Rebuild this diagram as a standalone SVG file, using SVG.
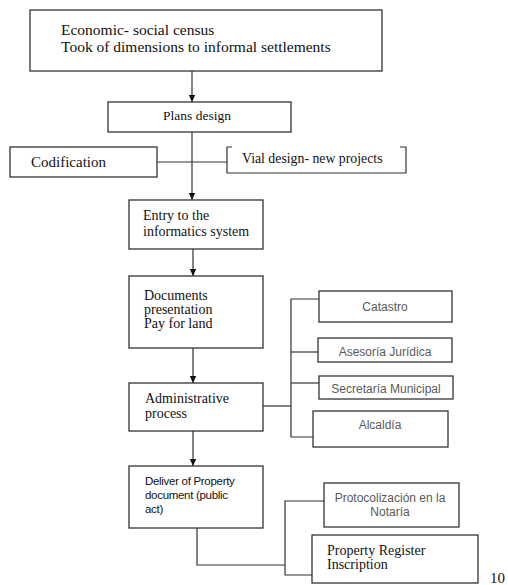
<svg xmlns="http://www.w3.org/2000/svg" width="508" height="585" viewBox="0 0 508 585">
<style>
.box{fill:#fff;stroke:#333;stroke-width:1.3}
.ln{fill:none;stroke:#333;stroke-width:1.2}
.serif{font-family:"Liberation Serif","Times New Roman",serif;fill:#111}
.sans{font-family:"Liberation Sans",Arial,sans-serif;fill:#5a5a5a;font-size:12px}
.sansd{font-family:"Liberation Sans",Arial,sans-serif;fill:#111;font-size:11.5px;letter-spacing:-0.3px}
</style>
<defs>
<marker id="arr" markerWidth="8" markerHeight="8" refX="7" refY="4" orient="auto" markerUnits="userSpaceOnUse">
<path d="M0,0.8 L7,4 L0,7.2 Z" fill="#111"/>
</marker>
</defs>
<rect width="508" height="585" fill="#fff"/>
<g id="connectors">
<line class="ln" x1="192" y1="71" x2="192" y2="102" marker-end="url(#arr)"/>
<line class="ln" x1="192" y1="132" x2="192" y2="200" marker-end="url(#arr)"/>
<line class="ln" x1="157" y1="162" x2="227" y2="162"/>
<line class="ln" x1="193" y1="249" x2="193" y2="276" marker-end="url(#arr)"/>
<line class="ln" x1="193" y1="348" x2="193" y2="383" marker-end="url(#arr)"/>
<line class="ln" x1="193" y1="431" x2="193" y2="466" marker-end="url(#arr)"/>
<polyline class="ln" points="263,406 291,406"/>
<polyline class="ln" points="319,299 291,299 291,437 313,437"/>
<line class="ln" x1="291" y1="352" x2="318" y2="352"/>
<line class="ln" x1="291" y1="383" x2="319" y2="383"/>
<polyline class="ln" points="197,528 197,565 285,565"/>
<polyline class="ln" points="324,501 285,501 285,575 313,575"/>
</g>
<g id="census">
<rect class="box" x="30" y="10" width="352" height="61"/>
<text class="serif" x="61" y="35" font-size="15.5">Economic- social census</text>
<text class="serif" x="61" y="52" font-size="15.5">Took of dimensions to informal settlements</text>
</g>
<g id="plans">
<rect class="box" x="108" y="102" width="183" height="30"/>
<text class="serif" x="197" y="120" font-size="13.5" text-anchor="middle">Plans design</text>
</g>
<g id="codification">
<rect class="box" x="10" y="147" width="147" height="30"/>
<text class="serif" x="31" y="167" font-size="15">Codification</text>
</g>
<g id="vial">
<path class="ln" d="M232,147 H227 V173 H406 V147 H400" stroke-width="1.3"/>
<text class="serif" x="242" y="163" font-size="13.8">Vial design- new projects</text>
</g>
<g id="entry">
<rect class="box" x="129" y="200" width="134" height="49"/>
<text class="serif" x="143" y="220" font-size="14">Entry to the</text>
<text class="serif" x="143" y="236" font-size="14">informatics system</text>
</g>
<g id="documents">
<rect class="box" x="129" y="276" width="134" height="72"/>
<text class="serif" x="144" y="300" font-size="14">Documents</text>
<text class="serif" x="144" y="314" font-size="14">presentation</text>
<text class="serif" x="144" y="328" font-size="14">Pay for land</text>
</g>
<g id="administrative">
<rect class="box" x="129" y="383" width="134" height="48"/>
<text class="serif" x="145" y="403" font-size="14">Administrative</text>
<text class="serif" x="145" y="418" font-size="14">process</text>
</g>
<g id="catastro">
<rect class="box" x="319" y="291" width="133" height="31"/>
<text class="sans" x="385" y="311" text-anchor="middle">Catastro</text>
</g>
<g id="asesoria">
<rect class="box" x="318" y="338" width="134" height="24"/>
<text class="sans" x="385" y="356" text-anchor="middle">Asesoría Jurídica</text>
</g>
<g id="secretaria">
<rect class="box" x="319" y="376" width="134" height="23"/>
<text class="sans" x="386" y="393" text-anchor="middle">Secretaría Municipal</text>
</g>
<g id="alcaldia">
<rect class="box" x="313" y="411" width="135" height="36"/>
<text class="sans" x="380" y="429" text-anchor="middle">Alcaldía</text>
</g>
<g id="deliver">
<rect class="box" x="129" y="466" width="134" height="62"/>
<text class="sansd" x="145" y="485">Deliver of Property</text>
<text class="sansd" x="145" y="499">document (public</text>
<text class="sansd" x="145" y="513">act)</text>
</g>
<g id="protocolizacion">
<rect class="box" x="324" y="483" width="135" height="44"/>
<text class="sans" x="390" y="502" text-anchor="middle">Protocolización en la</text>
<text class="sans" x="390" y="516" text-anchor="middle">Notaría</text>
</g>
<g id="register">
<rect class="box" x="312" y="535" width="166" height="48"/>
<text class="serif" x="327" y="555" font-size="14">Property Register</text>
<text class="serif" x="327" y="569" font-size="14">Inscription</text>
</g>
<text class="serif" x="490" y="583" font-size="15">10</text>
</svg>
